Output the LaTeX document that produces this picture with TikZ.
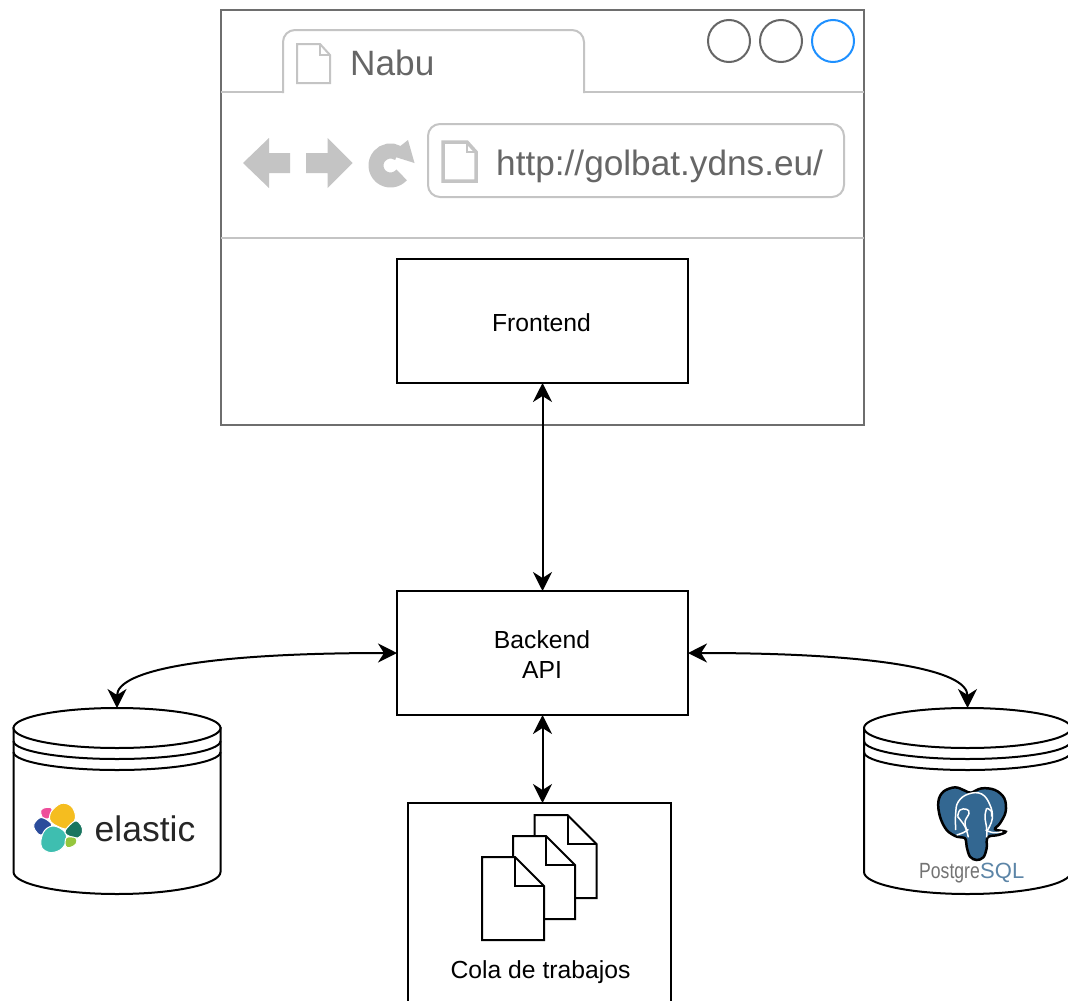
\documentclass[tikz,border=0pt]{standalone}
\usepackage{fontspec}
\setmainfont{Liberation Sans}
\usetikzlibrary{arrows.meta,calc}
\definecolor{wingray}{HTML}{6E6E6E}
\definecolor{litegray}{HTML}{C4C4C4}
\definecolor{txtgray}{HTML}{666666}
\definecolor{winblue}{HTML}{1E90FF}
\definecolor{pgblue}{HTML}{336791}
\definecolor{elyellow}{HTML}{F5BD1F}
\definecolor{elteal}{HTML}{3EBEB0}
\definecolor{elblue}{HTML}{2B4C9B}
\definecolor{elpink}{HTML}{EE4E9B}
\definecolor{elgreen}{HTML}{19755F}
\definecolor{ellime}{HTML}{95C63D}
\tikzset{
  boxnode/.style={draw=black,line width=2pt,inner sep=0pt,outer sep=0pt,fill=white,font=\fontsize{24.7}{30}\selectfont,align=center},
  label24/.style={inner sep=0pt,font=\fontsize{24.7}{30}\selectfont,text=black},
  bigtxt/.style={inner sep=0pt,anchor=base west,font=\fontsize{35.2}{40}\selectfont,text=txtgray},
  link/.style={line width=2pt,draw=black,{Stealth[length=19pt,width=19pt,inset=6pt]}-{Stealth[length=19pt,width=19pt,inset=6pt]}},
  sep/.style={draw=litegray,line width=2pt},
  winbtn/.style={circle,draw=txtgray,line width=2pt,minimum size=42pt,inner sep=0pt},
  docpage/.style={draw=black,line width=2pt,fill=white,line join=miter},
  wall/.style={draw=black,line width=2pt,fill=white},
  ghost/.style={inner sep=0pt,outer sep=0pt,minimum width=207pt,minimum height=186pt},
  filei/.style={draw=litegray,fill=white,line join=miter},
  blob/.style={draw=white,line width=1pt},
  elewhite/.style={white,line width=1.5pt}
}
\newcommand{\dbshape}[1]{%
  \begin{scope}[shift={(#1,0)}]
    \path[wall] (-103.5,728) -- (-103.5,872) arc[start angle=180,end angle=360,x radius=103.5pt,y radius=22pt] -- (103.5,728) -- cycle;
    \draw[wall] (0,728) ellipse[x radius=103.5pt,y radius=20pt];
    \draw[line width=2pt] (-103.5,741) arc[start angle=180,end angle=360,x radius=103.5pt,y radius=18pt];
    \draw[line width=2pt] (-103.5,752) arc[start angle=180,end angle=360,x radius=103.5pt,y radius=18pt];
  \end{scope}}
\newcommand{\jobdoc}[2]{%
  \begin{scope}[shift={(#1,#2)}]
    \draw[docpage] (0,0) -- (33,0) -- (62,29) -- (62,83) -- (0,83) -- cycle;
    \draw[line width=2pt] (33,0) -- (33,29) -- (62,29);
  \end{scope}}
\begin{document}
\begin{tikzpicture}[x=1pt,y=-1pt]
\clip (0,0) rectangle (1068,1001);
\fill[white] (0,0) rectangle (1068,1001);
% browser window
\node[draw=wingray,line width=2pt,inner sep=0pt,outer sep=0pt,minimum width=643pt,minimum height=415pt] (window) at (542.5,217.5) {};
\draw[sep] (221,92) -- (283,92);
\draw[sep] (584,92) -- (864,92);
\draw[sep,rounded corners=12pt] (283,93) -- (283,30) -- (584,30) -- (584,93);
\draw[sep] (221,238) -- (864,238);
\node[winbtn] (btna) at (729,41) {};
\node[winbtn] (btnb) at (781,41) {};
\node[winbtn,draw=winblue] (btnc) at (833,41) {};
% tab
\draw[filei,line width=2pt] (297,44) -- (320,44) -- (330,55) -- (330,83) -- (297,83) -- cycle;
\draw[draw=litegray,line width=1.2pt] (320,44) -- (320,55) -- (330,55);
\node[bigtxt] (tabtitle) at (350,75) {Nabu};
% nav icons
\fill[litegray] (243,163) -- (269,138) -- (269,153) -- (290,153) -- (290,173) -- (269,173) -- (269,188) -- cycle;
\fill[litegray] (352.5,163) -- (327.5,138) -- (327.5,153) -- (306,153) -- (306,173) -- (327.5,173) -- (327.5,188) -- cycle;
\draw[litegray,line width=15pt] ($(390.5,165.5)+(-40:14.5pt)$) arc[start angle=-40,end angle=-300,radius=14.5pt];
\fill[litegray] (408,140) -- (414.5,163) -- (389,155) -- cycle;
% url bar
\node[draw=litegray,line width=2pt,rounded corners=12pt,inner sep=0pt,outer sep=0pt,minimum width=416pt,minimum height=73pt] (urlbar) at (636,160.5) {};
\draw[filei,line width=3.5pt] (443,142) -- (467,142) -- (476,152) -- (476,181) -- (443,181) -- cycle;
\draw[draw=litegray,line width=1.2pt] (467,142) -- (467,152) -- (476,152);
\node[bigtxt] (urltext) at (496,175) {http://golbat.ydns.eu/};
% boxes
\node[boxnode,minimum width=291pt,minimum height=124pt] (frontend) at (542.5,321) {};
\node[label24] (frontendlabel) at (541.5,322.5) {Frontend};
\node[boxnode,minimum width=291pt,minimum height=124pt] (backend) at (542.5,653) {};
\node[label24,align=center] (backendlabel) at (542,655) {Backend\\API};
\node[boxnode,minimum width=263pt,minimum height=240pt] (queue) at (539.5,923) {};
% job documents
\jobdoc{534.5}{815}
\jobdoc{513}{836}
\jobdoc{482}{857}
\node[label24] (queuelabel) at (540.5,972) {Cola de trabajos};
% datastores
\node[ghost] (elastic) at (117,801) {};
\node[ghost] (postgres) at (967.5,801) {};
\dbshape{117}
\dbshape{967.5}
% elastic logo
\fill[elpink,blob] plot[smooth cycle,tension=.6] coordinates {(41,810)(46,807.5)(51.5,808)(52,814)(48,819)(42,817)};
\fill[elblue,blob] plot[smooth cycle,tension=.6] coordinates {(34,824)(41,817.5)(51,823)(50,828)(41,835)(35,830)};
\fill[elyellow,blob] plot[smooth cycle,tension=.6] coordinates {(51,812)(61,803.5)(71,806)(75.5,816)(72,825)(65,829)(51,822)};
\fill[elteal,blob] plot[smooth cycle,tension=.6] coordinates {(41,840)(45,830)(54,826)(65,832)(66,842)(60,850)(50,852.5)(42,848)};
\fill[elgreen,blob] plot[smooth cycle,tension=.6] coordinates {(65.5,830)(75,821)(81,825)(82.5,832)(78,838)(67,835)};
\fill[ellime,blob] plot[smooth cycle,tension=.6] coordinates {(66.5,837.5)(76,838)(76,844)(70,847.5)(65.5,846)};
\node[inner sep=0pt,anchor=base west,font=\fontsize{35.5}{40}\selectfont,text=black!85] (elastictext) at (94.5,841) {elastic};
% postgres logo
\begin{scope}[shift={(915,780)},x=0.3333pt,y=-0.3333pt]
  \draw[line width=2.5pt,draw=black,fill=pgblue] plot[smooth cycle,tension=.6] coordinates {(70,65)(85,35)(120,22)(150,32)(168,38)(200,25)(240,30)(268,55)(272,95)(255,130)(240,148)(272,155)(250,165)(218,172)(215,205)(205,232)(185,240)(165,230)(155,200)(150,175)(125,170)(95,150)(75,110)};
  \draw[elewhite] plot[smooth,tension=.7] coordinates {(122,150)(122,100)(130,65)(160,42)(200,42)(225,75)(232,115)(218,150)};
  \draw[elewhite] plot[smooth,tension=.7] coordinates {(160,172)(150,140)(128,110)};
  \draw[elewhite] plot[smooth,tension=.7] coordinates {(215,172)(215,145)(210,110)(215,85)};
  \draw[elewhite] plot[smooth,tension=.7] coordinates {(128,110)(135,90)(155,88)(162,100)(150,125)(155,150)};
  \draw[elewhite] plot[smooth,tension=.7] coordinates {(215,85)(228,92)(230,110)};
  \draw[elewhite] plot[smooth,tension=.7] coordinates {(125,165)(145,158)(160,148)};
  \draw[elewhite] plot[smooth,tension=.7] coordinates {(212,150)(235,158)(262,155)};
\end{scope}
\node[inner sep=0pt,anchor=base east,xscale=.8,font=\fontsize{22}{24}\selectfont,text=black!55] (pgname) at (980,878) {Postgre};
\node[inner sep=0pt,anchor=base west,font=\fontsize{22}{24}\selectfont,text=pgblue!80] (pgsql) at (980,878) {SQL};
% connectors
\draw[link] (frontend.south) -- (backend.north);
\draw[link] (backend.south) -- (backend.south |- queue.north);
\draw[link] (backend.west) .. controls +(-190,0) and +(0,-38) .. (elastic.north);
\draw[link] (backend.east) .. controls +(190,0) and +(0,-38) .. (postgres.north);
\end{tikzpicture}
\end{document}
